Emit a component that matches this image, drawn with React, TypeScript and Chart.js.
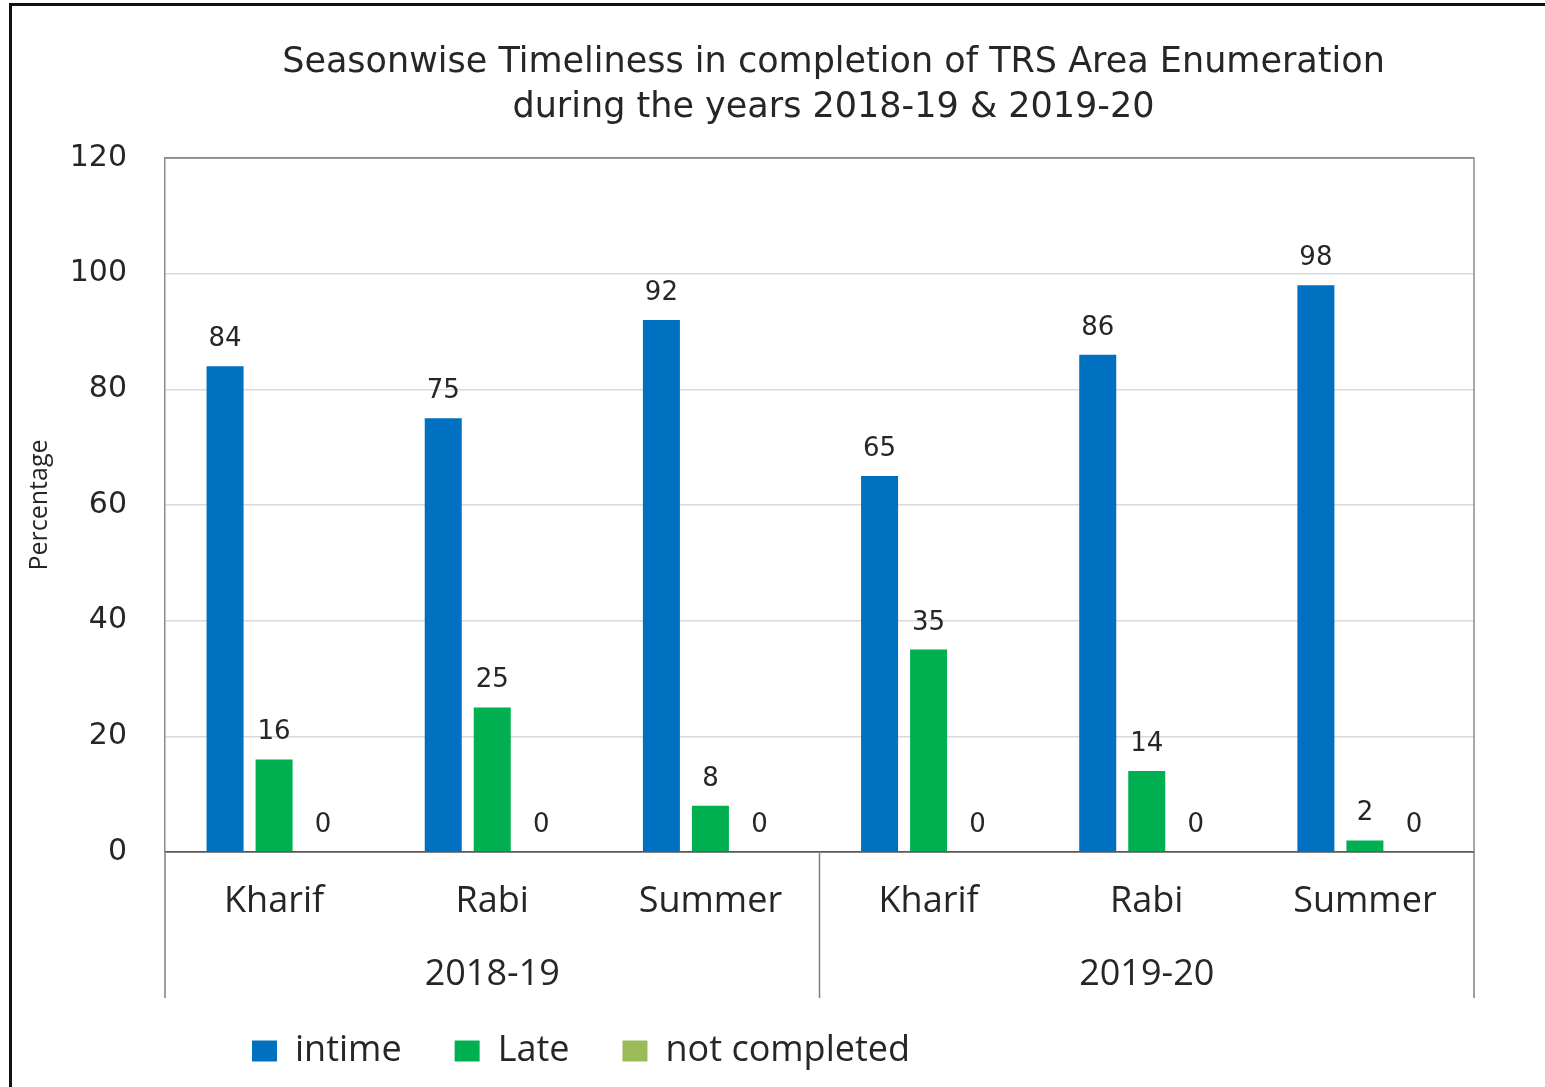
import React, { useEffect, useRef } from "react";
import { Chart, registerables } from "chart.js";

Chart.register(...registerables);

const seasons = ["Kharif", "Rabi", "Summer", "Kharif", "Rabi", "Summer"];
const years = ["2018-19", "2019-20"];
const intime = [84, 75, 92, 65, 86, 98];
const late = [16, 25, 8, 35, 14, 2];
const notCompleted = [0, 0, 0, 0, 0, 0];
const seriesNames = ["intime", "Late", "not completed"];
const titleLines = [
  "Seasonwise Timeliness in completion of TRS Area Enumeration",
  "during the years 2018-19 & 2019-20",
];
const yTicks = [0, 20, 40, 60, 80, 100, 120];

const SANS = "'DejaVu Sans', Verdana, sans-serif";
const CAL = "'Open Sans', 'Noto Sans', sans-serif";
const LEGEND_PAD = 53;
const LEGEND_FONT = 36;

const frameTitlePlugin = {
  id: "frameTitle",
  afterLayout(chart: any) {
    const lg = chart.legend;
    if (!lg) return;
    const dx = 252 - (lg.left + LEGEND_PAD);
    lg.left += dx;
    lg.right += dx;
    const dy = 1051 - (lg.top + LEGEND_PAD + LEGEND_FONT / 2);
    lg.top += dy;
    lg.bottom += dy;
  },
  beforeDraw(chart: any) {
    const ctx = chart.ctx;
    ctx.save();
    ctx.fillStyle = "#ffffff";
    ctx.fillRect(0, 0, chart.width, chart.height);
    ctx.strokeStyle = "#111111";
    ctx.lineWidth = 3;
    ctx.beginPath();
    ctx.moveTo(10.5, chart.height);
    ctx.lineTo(10.5, 4.5);
    ctx.lineTo(chart.width, 4.5);
    ctx.stroke();
    ctx.restore();
  },
  afterDraw(chart: any) {
    const ctx = chart.ctx;
    const area = chart.chartArea;
    const xs = chart.scales.x;
    const x2 = chart.scales.x2;
    ctx.save();
    ctx.strokeStyle = "#8c8c8c";
    ctx.lineWidth = 1.5;
    ctx.beginPath();
    ctx.moveTo(area.left, area.top);
    ctx.lineTo(area.right, area.top);
    ctx.lineTo(area.right, area.bottom);
    ctx.stroke();
    ctx.strokeStyle = "#7f7f7f";
    ctx.lineWidth = 1.5;
    const n = seasons.length;
    const per = n / years.length;
    for (let g = 0; g <= years.length; g++) {
      const idx = g * per;
      let x: number;
      if (idx === 0) x = area.left;
      else if (idx >= n) x = area.right;
      else x = (xs.getPixelForValue(idx - 1) + xs.getPixelForValue(idx)) / 2;
      ctx.beginPath();
      ctx.moveTo(x, area.bottom);
      ctx.lineTo(x, x2.bottom);
      ctx.stroke();
    }
    ctx.fillStyle = "#262626";
    ctx.font = `35px ${SANS}`;
    ctx.textAlign = "center";
    ctx.textBaseline = "middle";
    const cx = (area.left + area.right) / 2 + 14;
    ctx.fillText(titleLines[0], cx, 63);
    ctx.fillText(titleLines[1], cx, 108);
    ctx.restore();
  },
};

const valueLabelPlugin = {
  id: "valueLabels",
  afterDatasetsDraw(chart: any) {
    const ctx = chart.ctx;
    ctx.save();
    ctx.fillStyle = "#262626";
    ctx.font = `26px ${SANS}`;
    ctx.textAlign = "center";
    ctx.textBaseline = "alphabetic";
    chart.data.datasets.forEach((ds: any, di: number) => {
      const meta = chart.getDatasetMeta(di);
      meta.data.forEach((el: any, i: number) => {
        ctx.fillText(String(ds.data[i]), el.x, el.y - 20);
      });
    });
    ctx.restore();
  },
};

export default function App() {
  const ref = useRef<HTMLCanvasElement | null>(null);
  useEffect(() => {
    if (!ref.current) return;
    const chart = new Chart(ref.current, {
      type: "bar",
      data: {
        labels: seasons,
        datasets: [
          { label: seriesNames[0], data: intime, backgroundColor: "#0070C0" },
          { label: seriesNames[1], data: late, backgroundColor: "#00B050" },
          { label: seriesNames[2], data: notCompleted, backgroundColor: "#9BBB59" },
        ],
      },
      options: {
        animation: false,
        responsive: false,
        maintainAspectRatio: false,
        layout: { padding: { left: 9, right: 71, top: 158, bottom: -10 } },
        datasets: {
          bar: { categoryPercentage: 0.674, barPercentage: 0.755 },
        },
        plugins: {
          title: { display: false },
          tooltip: { enabled: false },
          legend: {
            position: "bottom",
            align: "start",
            labels: {
              boxWidth: 25,
              boxHeight: 21,
              padding: LEGEND_PAD,
              color: "#262626",
              font: { family: CAL, size: LEGEND_FONT },
            },
          },
        },
        scales: {
          x: {
            type: "category",
            position: "bottom",
            grid: { display: false, drawTicks: false },
            border: { display: true, color: "#595959", width: 1.5 },
            ticks: {
              color: "#262626",
              font: { family: CAL, size: 36 },
              padding: 28,
              autoSkip: false,
              maxRotation: 0,
              minRotation: 0,
            },
            afterFit: (s: any) => {
              s.height = 88;
            },
          },
          x2: {
            type: "category",
            position: "bottom",
            weight: 1,
            labels: years,
            offset: true,
            grid: { display: false, drawTicks: false },
            border: { display: false },
            ticks: {
              color: "#262626",
              font: { family: CAL, size: 36 },
              padding: 13,
              autoSkip: false,
              maxRotation: 0,
            },
            afterFit: (s: any) => {
              s.height = 58;
            },
          },
          y: {
            min: 0,
            max: 120,
            afterBuildTicks: (s: any) => {
              s.ticks = yTicks.map((v) => ({ value: v }));
            },
            grid: {
              drawTicks: false,
              color: (c: any) =>
                c.tick && c.tick.value === 0 ? "#595959" : c.tick && c.tick.value === 120 ? "#8c8c8c" : "#d9d9d9",
              lineWidth: 1.5,
            },
            border: { display: true, color: "#8c8c8c", width: 1.5 },
            ticks: {
              color: "#262626",
              font: { family: SANS, size: 30 },
              padding: 38,
            },
            title: {
              display: true,
              text: "Percentage",
              color: "#262626",
              font: { family: CAL, size: 25 },
              padding: { top: 16, bottom: 0 },
            },
            afterFit: (s: any) => {
              s.width = 156;
            },
          },
        },
      },
      plugins: [frameTitlePlugin, valueLabelPlugin],
    } as any);
    return () => chart.destroy();
  }, []);
  return (
    <div style={{ position: "absolute", left: 0, top: 0, width: 1545, height: 1087, overflow: "hidden", background: "#fff" }}>
      <canvas ref={ref} width={1545} height={1087} style={{ display: "block", width: 1545, height: 1087 }} />
    </div>
  );
}
